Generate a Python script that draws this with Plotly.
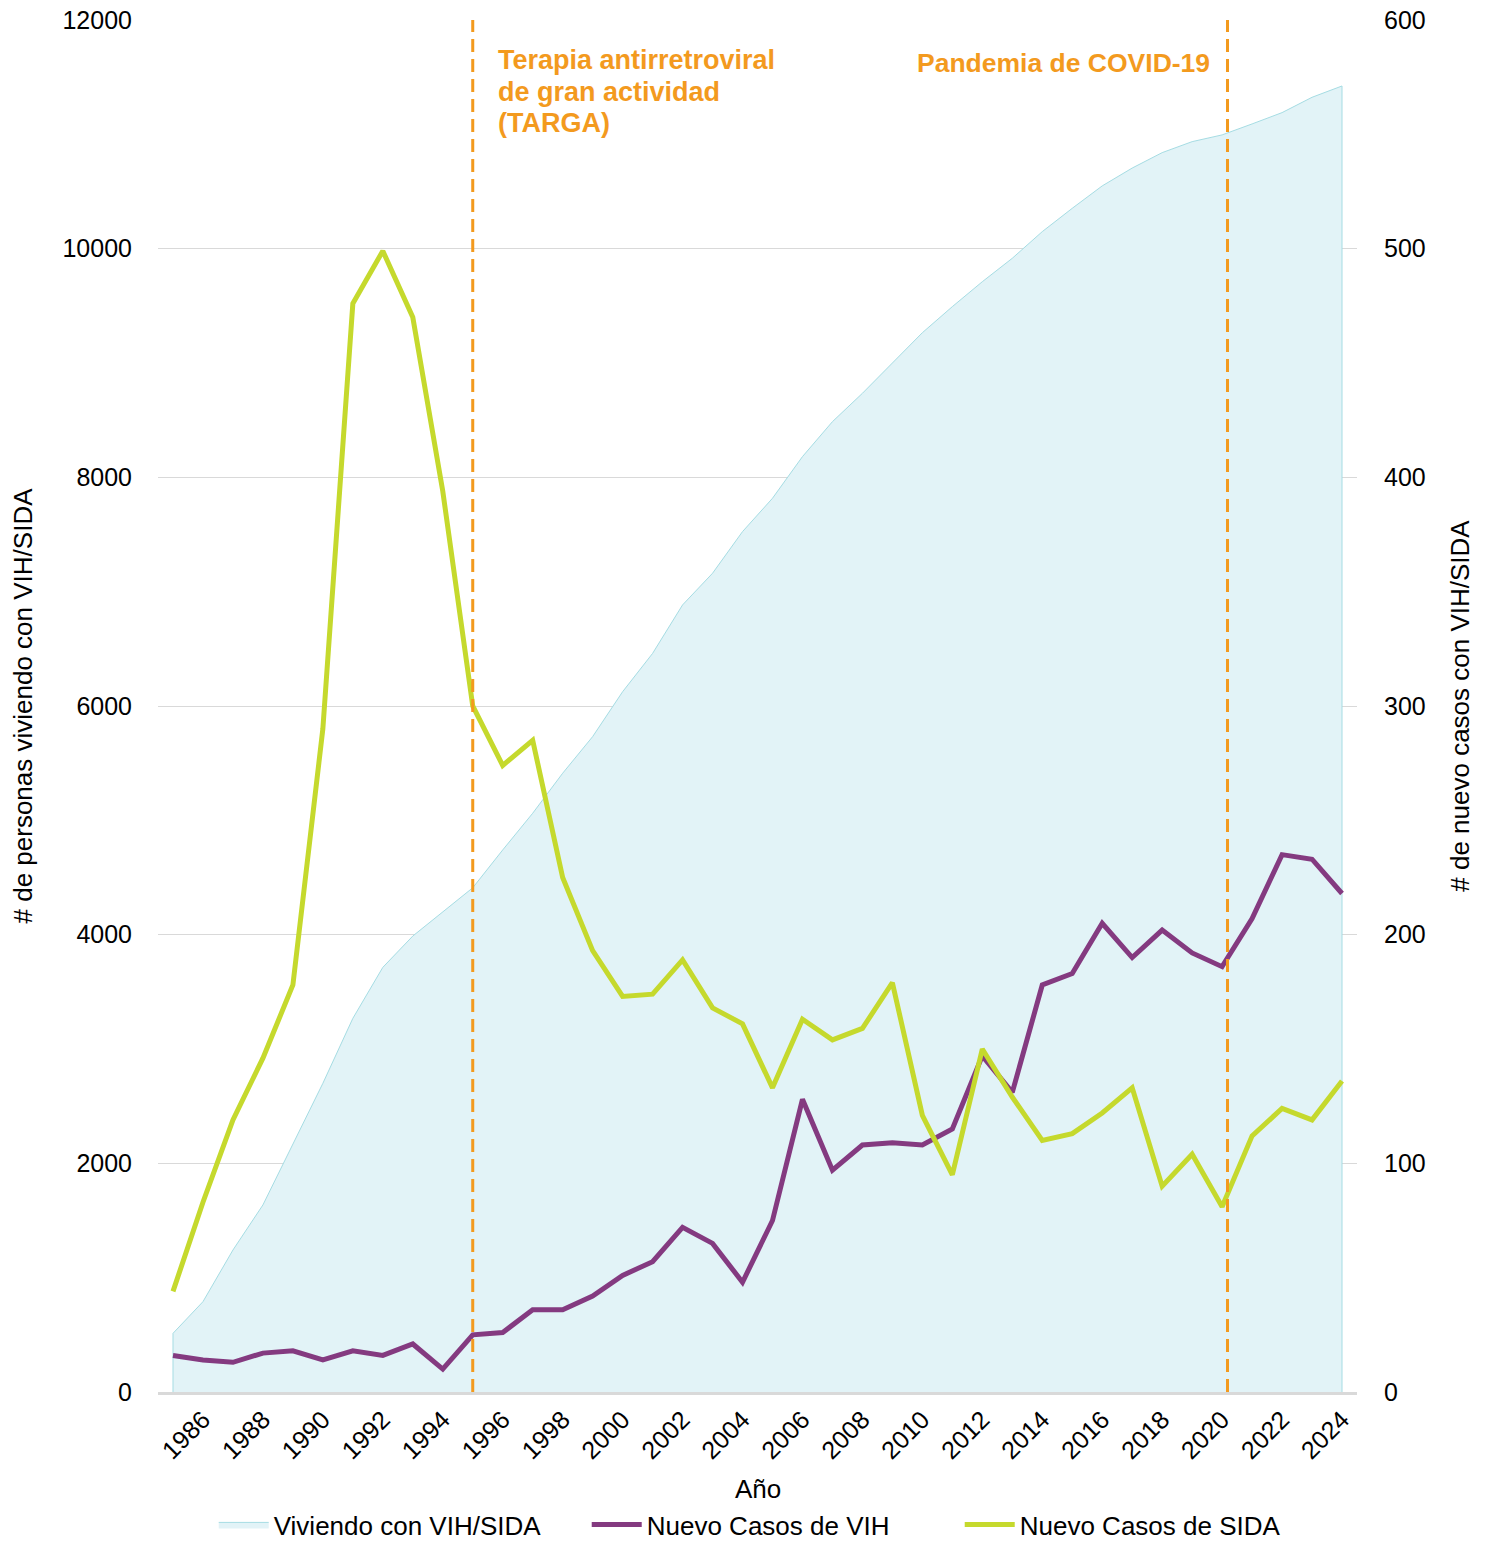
import plotly.graph_objects as go

years = list(range(1985, 2025))

living = [513, 790, 1242, 1636, 2175, 2700, 3268, 3714, 3988, 4201,
          4410, 4741, 5062, 5412, 5732, 6125, 6460, 6884, 7161, 7525,
          7817, 8181, 8487, 8735, 8997, 9265, 9493, 9711, 9916, 10149,
          10353, 10549, 10705, 10840, 10936, 10995, 11091, 11190, 11324, 11423]

new_hiv = [16, 14, 13, 17, 18, 14, 18, 16, 21, 10,
           25, 26, 36, 36, 42, 51, 57, 72, 65, 48,
           75, 128, 97, 108, 109, 108, 115, 147, 131, 178,
           183, 205, 190, 202, 192, 186, 207, 235, 233, 218]

new_aids = [44, 83, 119, 146, 178, 290, 476, 499, 470, 394,
            300, 274, 285, 225, 193, 173, 174, 189, 168, 161,
            133, 163, 154, 159, 179, 121, 95, 150, 129, 110,
            113, 122, 133, 90, 104, 81, 112, 124, 119, 136]

events = [1995, 2020.18]
targa_lines = ["Terapia antirretroviral", "de gran actividad", "(TARGA)"]
covid_label = "Pandemia de COVID-19"
x_title = "Año"

left_ticks = [0, 2000, 4000, 6000, 8000, 10000, 12000]
right_ticks = [0, 100, 200, 300, 400, 500, 600]

FONT = "Liberation Sans, Arial, sans-serif"
ORANGE = "#F39A1E"
PURPLE = "#843A80"
GREEN = "#C5D92D"
AREA_FILL = "#E2F3F7"
AREA_LINE = "#A5DCE3"

fig = go.Figure()

fig.add_trace(go.Scatter(
    x=[years[0]] + years + [years[-1]],
    y=[0] + living + [0],
    mode="lines", fill="tozeroy", fillcolor=AREA_FILL,
    line=dict(color=AREA_LINE, width=1),
    name="Viviendo con VIH/SIDA", yaxis="y",
))
fig.add_trace(go.Scatter(
    x=years, y=new_hiv, mode="lines",
    line=dict(color=PURPLE, width=5),
    name="Nuevo Casos de VIH", yaxis="y2",
))
fig.add_trace(go.Scatter(
    x=years, y=new_aids, mode="lines",
    line=dict(color=GREEN, width=5),
    name="Nuevo Casos de SIDA", yaxis="y2",
))

for ev in events:
    fig.add_shape(type="line", xref="x", yref="paper", x0=ev, x1=ev, y0=0, y1=1,
                  line=dict(color=ORANGE, width=3, dash="13px,7px"), layer="above")

for i, line_text in enumerate(targa_lines):
    fig.add_annotation(x=events[0], xref="x", y=0.9708 - i * 0.0230, yref="paper",
                       xanchor="left", yanchor="middle", xshift=23,
                       text="<b>" + line_text + "</b>",
                       showarrow=False, align="left",
                       font=dict(family=FONT, size=27, color=ORANGE))
fig.add_annotation(x=events[1], xref="x", y=0.9686, yref="paper",
                   xanchor="right", yanchor="middle", xshift=-16,
                   text="<b>" + covid_label + "</b>",
                   showarrow=False, align="right",
                   font=dict(family=FONT, size=26.5, color=ORANGE))

fig.add_annotation(x=0.5, xref="paper", y=-0.0707, yref="paper",
                   xanchor="center", yanchor="middle", text=x_title,
                   showarrow=False, font=dict(family=FONT, size=26, color="#000000"))

fig.update_layout(
    width=1480, height=1540,
    margin=dict(l=150, r=131, t=12, b=156),
    plot_bgcolor="white", paper_bgcolor="white",
    font=dict(family=FONT, size=26, color="#000000"),
    showlegend=True,
    legend=dict(orientation="h", x=0.139, xanchor="left", xref="container",
                y=0.0, yanchor="bottom", yref="container",
                font=dict(family=FONT, size=26, color="#000000"),
                itemwidth=50, traceorder="normal",
                entrywidth=308, entrywidthmode="pixels"),
    xaxis=dict(
        range=[1984.5, 2024.5], tickmode="array", tickvals=years[1::2],
        ticktext=[str(y) for y in years[1::2]], tickangle=-45,
        showgrid=False, zeroline=False, showline=True, linecolor="#D9D9D9", linewidth=3,
        ticks="", tickfont=dict(family=FONT, size=25, color="#000000"),
        automargin=False,
    ),
    yaxis=dict(
        range=[0, 12000], tickmode="array", tickvals=left_ticks,
        ticktext=[str(v) for v in left_ticks], ticklabeloverflow="allow",
        showgrid=True, gridcolor="#D9D9D9", gridwidth=1, zeroline=False, showline=False,
        ticks="", tickfont=dict(family=FONT, size=25, color="#000000"),
        ticklabelstandoff=25,
        title=dict(text="# de personas viviendo con VIH/SIDA",
                   font=dict(family=FONT, size=26, color="#000000"), standoff=32),
        automargin=False,
    ),
    yaxis2=dict(
        range=[0, 600], tickmode="array", tickvals=right_ticks,
        ticktext=[str(v) for v in right_ticks], ticklabeloverflow="allow",
        overlaying="y", side="right", showgrid=False, zeroline=False, showline=False,
        ticks="", tickfont=dict(family=FONT, size=25, color="#000000"),
        ticklabelstandoff=26,
        title=dict(text="# de nuevo casos con VIH/SIDA",
                   font=dict(family=FONT, size=26, color="#000000"), standoff=26),
        automargin=False,
    ),
)

fig.write_html("out.html")
